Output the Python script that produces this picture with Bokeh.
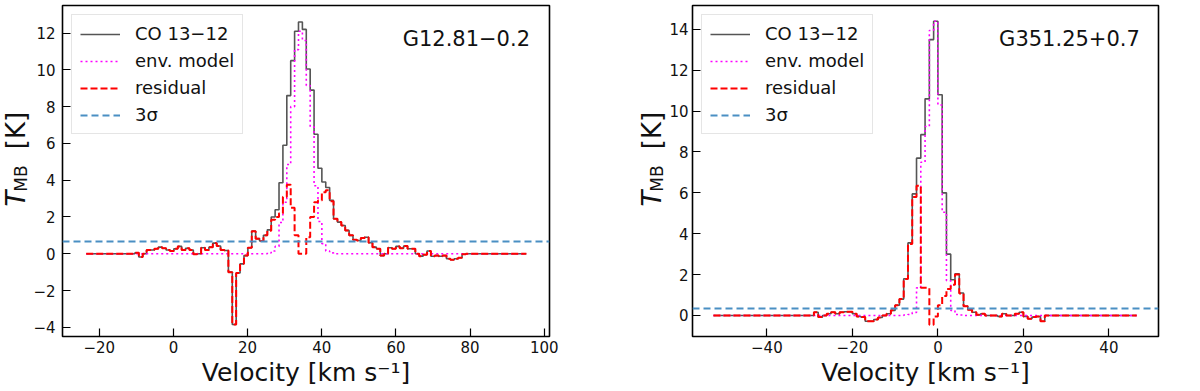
import math
import numpy as np
from bokeh.plotting import figure
from bokeh.models import Label, Legend, LegendItem, FixedTicker, Range1d
from bokeh.layouts import row
from bokeh.embed import file_html
from bokeh.resources import INLINE
from bokeh.core.properties import value

FONT = "DejaVu Sans"

# ---------------- data ----------------
legend_labels = ["CO 13\u221212", "env. model", "residual", "3\u03c3"]
x_label = "Velocity [km s\u207b\u00b9]"
y_label_parts = ["T", "MB", "[K]"]

left_name = "G12.81\u22120.2"
left_v_start = -23.5
left_dv = 1.05
left_co = [
    0, 0, 0, 0, 0, 0, 0, 0, 0, 0,
    0, 0, 0, 0.05, -0.18, 0.0, 0.2, 0.2, 0.27, 0.36,
    0.3, 0.2, 0.15, 0.27, 0.4, 0.2, 0.3, 0.2, -0.03, 0.0,
    0.33, 0.2, 0.36, 0.58, 0.42, 0.2, 0.18, -1.0, -3.85, -1.05,
    -0.55, -0.1, 0.33, 1.23, 0.82, 0.69, 1.0, 1.3, 2.0, 2.39,
    3.86, 5.9, 8.6, 10.5, 12.1, 12.6, 12.2, 10.05, 8.9, 6.5,
    4.65, 3.9, 3.6, 2.9, 1.9, 1.72, 1.54, 1.27, 1.0, 0.76,
    0.72, 0.85, 0.9, 0.6, 0.36, 0.27, -0.1, 0.0, 0.33, 0.27,
    0.4, 0.3, 0.42, 0.27, 0.27, 0.0, -0.13, -0.05, 0.15, -0.14,
    -0.1, -0.14, -0.1, -0.27, -0.33, -0.27, -0.22, -0.03, 0, 0,
    0, 0, 0, 0, 0, 0, 0, 0, 0, 0,
    0, 0, 0, 0,
]
left_model = [
    0, 0, 0, 0, 0, 0, 0, 0, 0, 0,
    0, 0, 0, 0, 0, 0, 0, 0, 0, 0,
    0, 0, 0, 0, 0, 0, 0, 0, 0, 0,
    0, 0, 0, 0, 0, 0, 0, 0, 0, 0,
    0, 0, 0, 0, 0, 0, 0, 0.05, 0.15, 0.4,
    1.7, 2.8, 4.85, 8.0, 11.1, 12.1, 11.6, 9.15, 6.9, 3.7,
    1.75, 0.55, 0.15, 0.05, 0, 0, 0, 0, 0, 0,
    0, 0, 0, 0, 0, 0, 0, 0, 0, 0,
    0, 0, 0, 0, 0, 0, 0, 0, 0, 0,
    0, 0, 0, 0, 0, 0, 0, 0, 0, 0,
    0, 0, 0, 0, 0, 0, 0, 0, 0, 0,
    0, 0, 0, 0,
]
left_resid = [
    0, 0, 0, 0, 0, 0, 0, 0, 0, 0,
    0, 0, 0, 0.05, -0.18, 0.0, 0.2, 0.2, 0.27, 0.36,
    0.3, 0.2, 0.15, 0.27, 0.4, 0.2, 0.3, 0.2, -0.03, 0.0,
    0.33, 0.2, 0.36, 0.58, 0.42, 0.2, 0.18, -1.0, -3.85, -1.05,
    -0.55, -0.1, 0.33, 1.23, 0.82, 0.69, 1.0, 1.25, 1.85, 2.0,
    2.2, 3.1, 3.75, 2.5, 1.0, 0.0, 0.0, 0.9, 2.0, 2.8,
    2.9, 3.35, 3.45, 2.85, 1.9, 1.72, 1.54, 1.27, 1.0, 0.76,
    0.72, 0.85, 0.9, 0.6, 0.36, 0.27, -0.1, 0.0, 0.33, 0.27,
    0.4, 0.3, 0.42, 0.27, 0.27, 0.0, -0.13, -0.05, 0.15, -0.14,
    -0.1, -0.14, -0.1, -0.27, -0.33, -0.27, -0.22, -0.03, 0, 0,
    0, 0, 0, 0, 0, 0, 0, 0, 0, 0,
    0, 0, 0, 0,
]
left_3sigma = 0.66
left_xticks = [-20, 0, 20, 40, 60, 80, 100]
left_yticks = [-4, -2, 0, 2, 4, 6, 8, 10, 12]
left_xlim = (-29.9, 101.4)
left_ylim = (-4.5, 13.5)

right_name = "G351.25+0.7"
right_v_start = -52.5
right_dv = 1.0
right_co = [
    0, 0, 0, 0, 0, 0, 0, 0, 0, 0,
    0, 0, 0, 0, 0, 0, 0, 0, 0, 0,
    0, 0, 0, 0.0, 0.16, -0.08, 0.0, 0.08, 0.16, 0.08,
    0.16, 0.18, 0.18, 0.08, -0.05, -0.08, -0.28, -0.28, -0.2, -0.1,
    0.0, 0.08, 0.25, 0.5, 0.8, 1.8, 3.55, 5.95, 7.7, 8.85,
    10.6, 13.5, 14.4, 10.8, 6.0, 3.0, 1.75, 2.04, 1.1, 0.45,
    0.28, 0.16, 0.03, 0.08, 0.0, 0.0, 0.0, -0.05, 0.08, 0.0,
    0.0, 0.08, 0.16, -0.05, -0.16, -0.08, -0.05, -0.28, 0.0, 0.0,
    0, 0, 0, 0, 0, 0, 0, 0, 0, 0,
    0, 0, 0, 0, 0, 0, 0, 0, 0, 0,
]
right_model = [
    0, 0, 0, 0, 0, 0, 0, 0, 0, 0,
    0, 0, 0, 0, 0, 0, 0, 0, 0, 0,
    0, 0, 0, 0, 0, 0, 0, 0, 0, 0,
    0, 0, 0, 0, 0, 0, 0, 0, 0, 0,
    0, 0, 0, 0, 0, 0.02, 0.05, 0.15, 1.35, 7.5,
    9.25, 13.95, 14.4, 10.3, 5.05, 1.7, 0.25, 0.05, 0.02, 0,
    0, 0, 0, 0, 0, 0, 0, 0, 0, 0,
    0, 0, 0, 0, 0, 0, 0, 0, 0, 0,
    0, 0, 0, 0, 0, 0, 0, 0, 0, 0,
    0, 0, 0, 0, 0, 0, 0, 0, 0, 0,
]
right_resid = [
    0, 0, 0, 0, 0, 0, 0, 0, 0, 0,
    0, 0, 0, 0, 0, 0, 0, 0, 0, 0,
    0, 0, 0, 0.0, 0.16, -0.08, 0.0, 0.08, 0.16, 0.08,
    0.16, 0.18, 0.18, 0.08, -0.05, -0.08, -0.28, -0.28, -0.2, -0.1,
    0.0, 0.08, 0.25, 0.5, 0.8, 1.78, 3.5, 5.8, 6.35, 1.35,
    1.35, -0.45, -0.05, 0.5, 0.95, 1.3, 1.5, 2.0, 1.08, 0.45,
    0.28, 0.16, 0.03, 0.08, 0.0, 0.0, 0.0, -0.05, 0.08, 0.0,
    0.0, 0.08, 0.16, -0.05, -0.16, -0.08, -0.05, -0.28, 0.0, 0.0,
    0, 0, 0, 0, 0, 0, 0, 0, 0, 0,
    0, 0, 0, 0, 0, 0, 0, 0, 0, 0,
]
right_3sigma = 0.32
right_xticks = [-40, -20, 0, 20, 40]
right_yticks = [0, 2, 4, 6, 8, 10, 12, 14]
right_xlim = (-57.4, 51.6)
right_ylim = (-1.03, 15.17)

# ---------------- styles ----------------
C_CO = "#555555"
C_MOD = "#ff00ff"
C_RES = "#ff0000"
C_SIG = "#4a8fc3"
TXT = "#111111"
H = 391
FRAME_H = 331   # frame height shared by all canvases in the row (5 px top, 55 px bottom)


def tick_text(t):
    return str(t).replace("-", "\u2212")


def make_panel(vel, co, model, resid, sigma3, name, xlim, ylim, xticks, yticks,
               width, border_left, border_right, ylabel_standoff):
    p = figure(width=width, height=H, output_backend="svg", toolbar_location=None,
               x_range=Range1d(*xlim), y_range=Range1d(*ylim),
               min_border_left=border_left, min_border_right=border_right,
               min_border_top=5, min_border_bottom=55)
    p.background_fill_color = "white"
    p.border_fill_color = "white"
    p.outline_line_color = "black"
    p.outline_line_width = 1.6
    p.xgrid.visible = False
    p.ygrid.visible = False

    r_co = p.step(vel, co, mode="center", line_color=C_CO, line_width=1.6)
    r_mod = p.step(vel, model, mode="center", line_color=C_MOD, line_width=1.6,
                   line_dash="2 3")
    r_res = p.step(vel, resid, mode="center", line_color=C_RES, line_width=2,
                   line_dash="7 3")
    r_sig = p.hspan(y=[sigma3], line_color=C_SIG, line_width=2, line_dash="7 4")

    legend = Legend(items=[LegendItem(label=legend_labels[0], renderers=[r_co]),
                           LegendItem(label=legend_labels[1], renderers=[r_mod]),
                           LegendItem(label=legend_labels[2], renderers=[r_res]),
                           LegendItem(label=legend_labels[3], renderers=[r_sig])],
                    location="top_left")
    legend.label_text_font = FONT
    legend.label_text_font_size = "18px"
    legend.label_text_color = TXT
    legend.glyph_width = 40
    legend.glyph_height = 20
    legend.label_standoff = 15
    legend.padding = 8
    legend.spacing = 6
    legend.margin = 9
    legend.border_line_color = "#cccccc"
    legend.border_line_width = 1
    legend.background_fill_alpha = 0.8
    p.add_layout(legend)

    for ax, ticks in ((p.xaxis[0], xticks), (p.yaxis[0], yticks)):
        ax.ticker = FixedTicker(ticks=ticks)
        ax.major_label_overrides = {t: tick_text(t) for t in ticks}
        ax.major_tick_in = 8
        ax.major_tick_out = 0
        ax.major_tick_line_width = 1.2
        ax.major_tick_line_color = "black"
        ax.minor_tick_line_color = None
        ax.axis_line_color = None
        ax.major_label_text_font = FONT
        ax.major_label_text_font_size = "15px"
        ax.major_label_text_color = TXT
    p.xaxis.major_label_standoff = 4
    p.yaxis.major_label_standoff = ylabel_standoff
    p.xaxis.axis_label = x_label
    p.xaxis.axis_label_text_font = FONT
    p.xaxis.axis_label_text_font_size = "25px"
    p.xaxis.axis_label_text_font_style = "normal"
    p.xaxis.axis_label_text_color = TXT
    p.xaxis.axis_label_standoff = 2

    # source name, top right inside the frame
    tx = xlim[0] + 0.96 * (xlim[1] - xlim[0])
    ty = ylim[0] + 0.9 * (ylim[1] - ylim[0])
    p.add_layout(Label(x=tx, y=ty, text=name, text_align="right",
                       text_baseline="middle", text_font=FONT,
                       text_font_size="21px", text_color=TXT))
    return p


def make_ylabel(width, base_x):
    """Narrow canvas holding the rotated y-axis label T_MB [K] (1 unit = 1 px)."""
    f = figure(width=width, height=H, output_backend="svg", toolbar_location=None,
               x_range=Range1d(0, width), y_range=Range1d(0, FRAME_H),
               x_axis_type=None, y_axis_type=None,
               min_border_left=0, min_border_right=0,
               min_border_top=5, min_border_bottom=55)
    f.outline_line_color = None
    f.background_fill_color = "white"
    f.border_fill_color = "white"
    # (style, size, x offset of centre, y centre above frame bottom)
    styles = [("italic", "26px", 0, 138),
              ("normal", "17px", 5, 158),
              ("normal", "26px", 0, 206)]
    for txt, (style, size, dx, yc) in zip(y_label_parts, styles):
        f.text(x=[base_x + dx], y=[yc], text=[txt], angle=math.pi / 2,
               text_align="center", text_baseline="middle",
               text_font=value(FONT), text_font_style=style,
               text_font_size=size, text_color=TXT)
    return f


left_vel = left_v_start + left_dv * np.arange(len(left_co))
right_vel = right_v_start + right_dv * np.arange(len(right_co))

lab1 = make_ylabel(30, 15)
p1 = make_panel(left_vel, left_co, left_model, left_resid, left_3sigma, left_name,
                left_xlim, left_ylim, left_xticks, left_yticks,
                width=606, border_left=30, border_right=87, ylabel_standoff=7)
lab2 = make_ylabel(30, 15)
p2 = make_panel(right_vel, right_co, right_model, right_resid, right_3sigma, right_name,
                right_xlim, right_ylim, right_xticks, right_yticks,
                width=534, border_left=23, border_right=42, ylabel_standoff=4)

layout = row(lab1, p1, lab2, p2)
open("out.html", "w").write(file_html(layout, INLINE))
